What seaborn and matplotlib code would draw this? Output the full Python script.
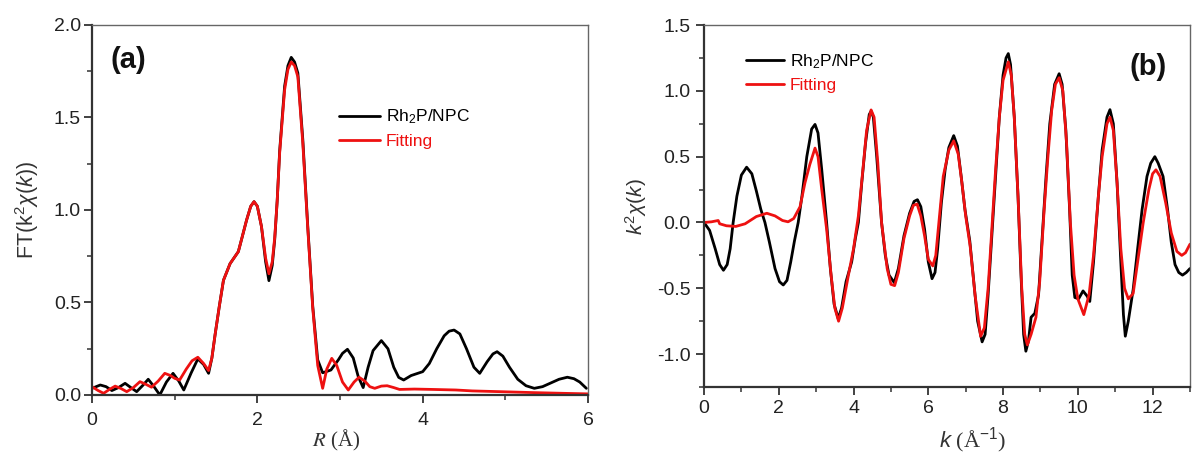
import numpy as np
import pandas as pd
import matplotlib
matplotlib.use("Agg")
import matplotlib.pyplot as plt
import seaborn as sns
from matplotlib.ticker import MultipleLocator, FormatStrFormatter

# ---------------- data ----------------
# Panel (a): FT magnitude vs R
r_exp = [0.0, 0.1, 0.17, 0.24, 0.32, 0.4, 0.47, 0.54, 0.61, 0.68, 0.75, 0.82, 0.9, 0.98,
         1.05, 1.11, 1.2, 1.28, 1.35, 1.41, 1.45, 1.49, 1.54, 1.59, 1.67, 1.77, 1.82, 1.87,
         1.92, 1.96, 2.0, 2.05, 2.1, 2.14, 2.18, 2.21, 2.24, 2.27, 2.33, 2.37, 2.41, 2.45,
         2.49, 2.55, 2.61, 2.67, 2.73, 2.79, 2.89, 2.98, 3.03, 3.09, 3.16, 3.22, 3.28, 3.34,
         3.4, 3.5, 3.58, 3.65, 3.71, 3.77, 3.86, 4.0, 4.08, 4.17, 4.26, 4.32, 4.38, 4.45,
         4.53, 4.62, 4.69, 4.78, 4.85, 4.9, 4.97, 5.05, 5.15, 5.25, 5.35, 5.45, 5.55, 5.65,
         5.75, 5.83, 5.9, 5.98]
ft_exp = [0.036, 0.054, 0.045, 0.024, 0.04, 0.063, 0.04, 0.018, 0.05, 0.085, 0.045, 0.0,
          0.07, 0.117, 0.075, 0.027, 0.12, 0.195, 0.165, 0.117, 0.2, 0.33, 0.48, 0.62,
          0.71, 0.775, 0.86, 0.946, 1.02, 1.045, 1.02, 0.91, 0.72, 0.618, 0.7, 0.84, 1.05,
          1.32, 1.67, 1.78, 1.825, 1.8, 1.74, 1.38, 0.91, 0.48, 0.19, 0.12, 0.135, 0.19,
          0.225, 0.247, 0.2, 0.1, 0.04, 0.15, 0.24, 0.294, 0.25, 0.15, 0.095, 0.081, 0.105,
          0.126, 0.17, 0.25, 0.32, 0.345, 0.351, 0.33, 0.25, 0.15, 0.117, 0.18, 0.222,
          0.234, 0.21, 0.15, 0.085, 0.05, 0.036, 0.045, 0.065, 0.085, 0.096, 0.088, 0.07,
          0.036]

r_fit = [0.0, 0.07, 0.14, 0.21, 0.28, 0.35, 0.42, 0.5, 0.58, 0.65, 0.72, 0.8, 0.88, 0.95,
         1.0, 1.06, 1.14, 1.21, 1.28, 1.35, 1.41, 1.45, 1.49, 1.54, 1.59, 1.67, 1.77, 1.82,
         1.87, 1.92, 1.96, 2.0, 2.05, 2.1, 2.14, 2.18, 2.21, 2.24, 2.27, 2.33, 2.37, 2.41,
         2.45, 2.49, 2.55, 2.61, 2.67, 2.73, 2.79, 2.84, 2.9, 2.96, 3.03, 3.1, 3.17, 3.23,
         3.3, 3.36, 3.42, 3.5, 3.57, 3.65, 3.72, 3.9, 4.12, 4.4, 4.6, 4.93, 5.33, 5.7, 6.0]
ft_fit = [0.045, 0.025, 0.009, 0.03, 0.048, 0.035, 0.018, 0.04, 0.072, 0.058, 0.042, 0.075,
          0.117, 0.105, 0.09, 0.081, 0.14, 0.185, 0.204, 0.17, 0.132, 0.2, 0.33, 0.48,
          0.62, 0.71, 0.775, 0.86, 0.946, 1.02, 1.045, 1.02, 0.91, 0.74, 0.655, 0.72, 0.85,
          1.05, 1.31, 1.65, 1.76, 1.80, 1.78, 1.72, 1.36, 0.9, 0.47, 0.16, 0.036, 0.14,
          0.198, 0.16, 0.07, 0.027, 0.07, 0.096, 0.075, 0.045, 0.036, 0.048, 0.05, 0.04,
          0.03, 0.032, 0.03, 0.027, 0.022, 0.018, 0.013, 0.009, 0.006]

# Panel (b): k^2 chi(k) vs k
k_exp = [0.0, 0.15, 0.3, 0.42, 0.52, 0.62, 0.7, 0.78, 0.88, 1.0, 1.14, 1.28, 1.4, 1.52,
         1.63, 1.75, 1.9, 2.02, 2.12, 2.22, 2.32, 2.42, 2.52, 2.62, 2.75, 2.88, 2.97, 3.05,
         3.15, 3.28, 3.38, 3.48, 3.59, 3.68, 3.8, 3.95, 4.05, 4.13, 4.22, 4.32, 4.42, 4.47,
         4.53, 4.62, 4.75, 4.85, 4.95, 5.09, 5.2, 5.35, 5.5, 5.62, 5.71, 5.8, 5.9, 6.0,
         6.1, 6.18, 6.25, 6.35, 6.45, 6.55, 6.68, 6.78, 6.88, 6.98, 7.11, 7.2, 7.32, 7.44,
         7.52, 7.6, 7.7, 7.8, 7.9, 8.0, 8.08, 8.14, 8.2, 8.3, 8.4, 8.48, 8.55, 8.61, 8.68,
         8.75, 8.85, 8.95, 9.05, 9.15, 9.25, 9.38, 9.5, 9.58, 9.68, 9.78, 9.85, 9.92,
         10.02, 10.14, 10.25, 10.32, 10.42, 10.55, 10.65, 10.78, 10.86, 10.95, 11.05,
         11.15, 11.22, 11.27, 11.35, 11.48, 11.6, 11.72, 11.85, 11.95, 12.06, 12.15,
         12.28, 12.4, 12.5, 12.6, 12.7, 12.8, 12.9, 13.0]
chi_exp = [0.0, -0.06, -0.2, -0.32, -0.363, -0.32, -0.2, 0.0, 0.2, 0.36, 0.42, 0.37, 0.24,
           0.1, 0.0, -0.15, -0.35, -0.45, -0.475, -0.44, -0.3, -0.14, 0.0, 0.2, 0.5, 0.71,
           0.745, 0.68, 0.4, 0.0, -0.35, -0.62, -0.73, -0.65, -0.45, -0.3, -0.12, 0.0, 0.3,
           0.6, 0.82, 0.846, 0.8, 0.5, 0.0, -0.25, -0.4, -0.457, -0.35, -0.1, 0.07, 0.16,
           0.173, 0.12, -0.05, -0.3, -0.427, -0.38, -0.2, 0.15, 0.4, 0.57, 0.66, 0.58, 0.35,
           0.1, -0.14, -0.4, -0.75, -0.907, -0.85, -0.55, -0.1, 0.35, 0.8, 1.12, 1.25, 1.283,
           1.2, 0.8, 0.2, -0.4, -0.85, -0.978, -0.9, -0.72, -0.69, -0.55, -0.1, 0.35, 0.75,
           1.05, 1.13, 1.05, 0.7, 0.1, -0.4, -0.57, -0.58, -0.52, -0.56, -0.6, -0.3, 0.2,
           0.55, 0.8, 0.857, 0.75, 0.3, -0.3, -0.7, -0.864, -0.75, -0.51, -0.2, 0.1, 0.35,
           0.45, 0.5, 0.45, 0.35, 0.1, -0.15, -0.32, -0.38, -0.4, -0.38, -0.35]

k_fit = [0.0, 0.2, 0.38, 0.42, 0.6, 0.85, 1.1, 1.4, 1.68, 1.9, 2.1, 2.25, 2.4, 2.57, 2.7,
         2.83, 2.97, 3.05, 3.15, 3.28, 3.4, 3.5, 3.6, 3.7, 3.85, 4.0, 4.13, 4.25, 4.35,
         4.47, 4.55, 4.65, 4.75, 4.9, 5.0, 5.1, 5.2, 5.35, 5.5, 5.6, 5.7, 5.8, 5.9, 6.0,
         6.12, 6.2, 6.3, 6.4, 6.55, 6.68, 6.8, 6.9, 7.0, 7.12, 7.25, 7.4, 7.5, 7.6, 7.7,
         7.8, 7.9, 8.0, 8.14, 8.22, 8.3, 8.4, 8.5, 8.58, 8.65, 8.75, 8.88, 8.98, 9.1, 9.2,
         9.3, 9.4, 9.5, 9.6, 9.7, 9.8, 9.9, 10.0, 10.16, 10.3, 10.42, 10.55, 10.65, 10.78,
         10.86, 10.95, 11.05, 11.15, 11.25, 11.35, 11.48, 11.6, 11.75, 11.9, 12.0, 12.09,
         12.2, 12.35, 12.5, 12.65, 12.78, 12.88, 13.0]
chi_fit = [0.0, 0.005, 0.015, -0.01, -0.025, -0.03, -0.01, 0.045, 0.07, 0.05, 0.015, 0.005,
           0.03, 0.12, 0.3, 0.44, 0.565, 0.5, 0.25, -0.05, -0.4, -0.65, -0.75, -0.65, -0.42,
           -0.2, 0.05, 0.4, 0.7, 0.855, 0.8, 0.45, 0.0, -0.35, -0.47, -0.48, -0.38, -0.12,
           0.05, 0.13, 0.14, 0.05, -0.1, -0.28, -0.33, -0.25, 0.05, 0.35, 0.55, 0.62, 0.52,
           0.3, 0.05, -0.18, -0.55, -0.865, -0.8, -0.5, -0.05, 0.4, 0.8, 1.08, 1.22, 1.12,
           0.8, 0.2, -0.5, -0.85, -0.93, -0.85, -0.72, -0.45, 0.1, 0.5, 0.85, 1.05, 1.10,
           1.0, 0.6, 0.0, -0.4, -0.58, -0.70, -0.55, -0.25, 0.2, 0.5, 0.75, 0.80, 0.7, 0.3,
           -0.2, -0.5, -0.58, -0.54, -0.3, 0.0, 0.25, 0.37, 0.40, 0.35, 0.15, -0.08, -0.22,
           -0.25, -0.23, -0.165]

series_labels = ["Rh$_2$P/NPC", "Fitting"]
series_colors = ["#000000", "#ee1111"]

# ---------------- style ----------------
sns.set_theme(style="ticks")
plt.rcParams["font.family"] = ["Liberation Sans", "DejaVu Sans"]
plt.rcParams["mathtext.fontset"] = "custom"
plt.rcParams["mathtext.rm"] = "Liberation Sans"
plt.rcParams["mathtext.it"] = "Liberation Sans:italic"
plt.rcParams["mathtext.bf"] = "Liberation Sans:bold"

fig = plt.figure(figsize=(11.92, 4.61), dpi=100)
axA = fig.add_axes([0.0772, 0.1432, 0.4161, 0.8026])
axB = fig.add_axes([0.5906, 0.1605, 0.4077, 0.7852])

dA = [pd.DataFrame({"x": r_exp, "y": ft_exp}), pd.DataFrame({"x": r_fit, "y": ft_fit})]
dB = [pd.DataFrame({"x": k_exp, "y": chi_exp}), pd.DataFrame({"x": k_fit, "y": chi_fit})]

for ax, dfs in ((axA, dA), (axB, dB)):
    for df, lab, col in zip(dfs, series_labels, series_colors):
        sns.lineplot(data=df, x="x", y="y", ax=ax, color=col, label=lab,
                     linewidth=2.0, sort=False)

def style_axes(ax, xpad, ypad):
    for side in ("left", "bottom"):
        ax.spines[side].set_linewidth(1.6)
        ax.spines[side].set_color("#333333")
    for side in ("top", "right"):
        ax.spines[side].set_linewidth(1.0)
        ax.spines[side].set_color("#666666")
        ax.spines[side].set_visible(True)
    ax.tick_params(which="major", direction="out", length=6, width=1.3,
                   colors="#333333", labelsize=14, labelcolor="#222222")
    ax.tick_params(which="minor", direction="out", length=3.5, width=1.1,
                   colors="#333333")
    ax.tick_params(axis="x", which="major", pad=xpad)
    ax.tick_params(axis="y", which="major", pad=ypad)
    ax.tick_params(top=False, right=False, which="both")

# panel (a)
axA.set_xlim(0, 6)
axA.set_ylim(0, 2.0)
axA.xaxis.set_major_locator(MultipleLocator(2))
axA.xaxis.set_minor_locator(MultipleLocator(1))
axA.yaxis.set_major_locator(MultipleLocator(0.5))
axA.yaxis.set_minor_locator(MultipleLocator(0.25))
axA.xaxis.set_major_formatter(FormatStrFormatter("%d"))
axA.yaxis.set_major_formatter(FormatStrFormatter("%.1f"))
style_axes(axA, xpad=6, ypad=2)
axA.set_xlabel(r"$R$ (Å)", fontsize=15, family="Liberation Serif",
               math_fontfamily="stix", color="#333333")
axA.set_ylabel(r"FT(k$^2\chi(k)$)", fontsize=15.5, color="#333333")
axA.xaxis.set_label_coords(0.493, -0.089)
axA.yaxis.set_label_coords(-0.103, 0.5)
axA.text(0.073, 0.905, "(a)", transform=axA.transAxes, fontsize=21,
         fontweight="bold", ha="center", va="center", color="#111111")
axA.legend(loc="upper left", bbox_to_anchor=(0.48, 0.80), frameon=False,
           fontsize=12.5, handlelength=2.4, handletextpad=0.3, labelspacing=0.45,
           borderpad=0, labelcolor="linecolor")

# panel (b)
axB.set_xlim(0, 13)
axB.set_ylim(-1.25, 1.5)
axB.xaxis.set_major_locator(MultipleLocator(2))
axB.xaxis.set_minor_locator(MultipleLocator(1))
axB.yaxis.set_major_locator(MultipleLocator(0.5))
axB.yaxis.set_minor_locator(MultipleLocator(0.25))
axB.xaxis.set_major_formatter(FormatStrFormatter("%d"))
axB.yaxis.set_major_formatter(FormatStrFormatter("%.1f"))
style_axes(axB, xpad=3, ypad=3.5)
axB.set_xlabel(r"$k$ (Å$^{-1}$)", fontsize=16, family="Liberation Serif",
               color="#333333")
axB.set_ylabel(r"$k^2\chi(k)$", fontsize=15, color="#333333")
axB.xaxis.set_label_coords(0.553, -0.105)
axB.yaxis.set_label_coords(-0.113, 0.5)
axB.text(0.914, 0.884, "(b)", transform=axB.transAxes, fontsize=21,
         fontweight="bold", ha="center", va="center", color="#111111")
axB.legend(loc="upper left", bbox_to_anchor=(0.069, 0.95), frameon=False,
           fontsize=12.5, handlelength=2.2, handletextpad=0.3, labelspacing=0.45,
           borderpad=0, labelcolor="linecolor")

fig.savefig("out.png", dpi=100)
